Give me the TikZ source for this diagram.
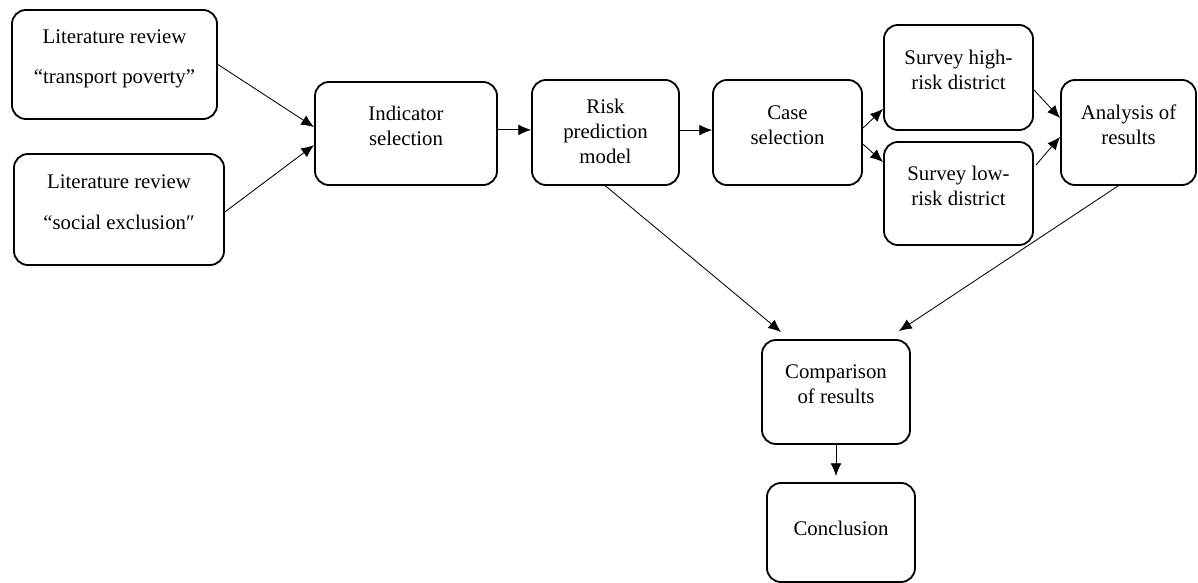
\documentclass[tikz,border=0pt]{standalone}
\usepackage{fontspec}
\setmainfont{Liberation Serif}
\usepackage{tikz}
\usetikzlibrary{arrows.meta}

\begin{document}
\begin{tikzpicture}[x=0.025cm,y=-0.025cm,
  box/.style={draw,line width=1.3pt,rounded corners=0.35cm,align=center,inner sep=2pt,
    font=\fontsize{14.8}{17.7}\selectfont,text depth=0.375cm},
  flow/.style={line width=0.6pt,-{Latex[length=0.32cm,width=0.27cm]}}]
\useasboundingbox (0,0) rectangle (1198,583);

\node[box,minimum width=5.125cm,minimum height=2.725cm] (lit1) at (114.5,64.5) {Literature review\\[10.6pt]“transport poverty”};
\node[box,minimum width=5.25cm,minimum height=2.775cm] (lit2) at (119,209.5) {Literature review\\[12pt]“social exclusion″};
\node[box,minimum width=4.55cm,minimum height=2.575cm] (ind) at (406,133.5) {Indicator\\selection};
\node[box,minimum width=3.675cm,minimum height=2.625cm,text depth=0.075cm] (risk) at (605.5,132.5) {Risk\\prediction\\model};
\node[box,minimum width=3.725cm,minimum height=2.625cm] (case) at (787.5,132.5) {Case\\selection};
\node[box,minimum width=3.725cm,minimum height=2.625cm] (high) at (958.5,77.5) {Survey high-\\risk district};
\node[box,minimum width=3.725cm,minimum height=2.575cm] (low) at (958.5,193.5) {Survey low-\\risk district};
\node[box,minimum width=3.375cm,minimum height=2.625cm] (anl) at (1128.5,132.5) {Analysis of\\results};
\node[box,minimum width=3.7cm,minimum height=2.6cm] (comp) at (836,392) {Comparison\\of results};
\node[box,minimum width=3.7cm,minimum height=2.475cm,text depth=0.2cm] (concl) at (841,532.5) {Conclusion};

% connectors
\draw[flow] (lit1.east) -- ([yshift=0.16cm]ind.west);
\draw[flow] ([yshift=-0.06cm]lit2.east) -- ([yshift=-0.29cm]ind.west);
\draw[flow] ([yshift=0.09cm]ind.east) -- ([yshift=0.09cm]ind.east -| risk.west);
\draw[flow] ([yshift=0.06cm]risk.east) -- ([yshift=0.06cm]risk.east -| case.west);
\draw[flow] ([yshift=0.11cm]case.east) -- ([yshift=0.55cm]high.south west);
\draw[flow] ([yshift=-0.29cm]case.east) -- ([yshift=-0.525cm]low.north west);
\draw[flow] ([yshift=-0.31cm]high.east) -- ([yshift=0.36cm]anl.west);
\draw[flow] ([xshift=0.05cm,yshift=0.71cm]low.east) -- ([yshift=-0.11cm]anl.west);
\draw[flow] (risk.south) -- ([xshift=0.5cm,yshift=0.175cm]comp.north west);
\draw[flow] ([xshift=-0.26cm]anl.south) -- ([xshift=-0.3cm,yshift=0.2cm]comp.north east);
\draw[flow] (comp.south) -- ([yshift=0.15cm]comp.south |- concl.north);
\end{tikzpicture}
\end{document}
